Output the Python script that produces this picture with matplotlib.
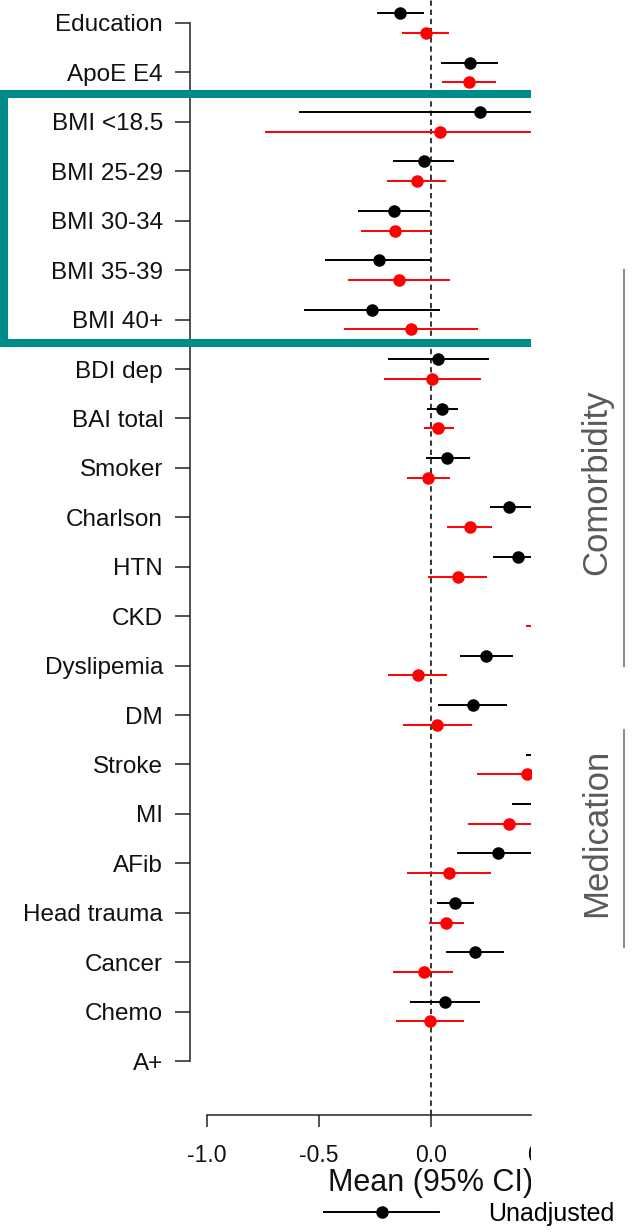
import matplotlib.pyplot as plt
import numpy as np
from matplotlib.lines import Line2D
from matplotlib.transforms import Bbox, TransformedBbox

plt.rc('font', family='Liberation Sans')

labels = ['Education', 'ApoE E4', 'BMI <18.5', 'BMI 25-29', 'BMI 30-34', 'BMI 35-39',
          'BMI 40+', 'BDI dep', 'BAI total', 'Smoker', 'Charlson', 'HTN', 'CKD',
          'Dyslipemia', 'DM', 'Stroke', 'MI', 'AFib', 'Head trauma', 'Cancer',
          'Chemo', 'A+']

nan = np.nan

# unadjusted estimates (black)
unadj_mean = [-0.137, 0.173, 0.219, -0.033, -0.164, -0.234, -0.265, 0.033, 0.049, 0.073,
              0.350, 0.389, 0.70, 0.246, 0.186, 0.65, 0.52, 0.301, 0.109, 0.197, 0.064, nan]
unadj_lo = [-0.243, 0.046, -0.589, -0.170, -0.325, -0.471, -0.569, -0.192, -0.018, -0.024,
            0.265, 0.279, 0.50, 0.130, 0.031, 0.424, 0.360, 0.115, 0.027, 0.069, -0.095, nan]
unadj_hi = [-0.033, 0.301, 1.03, 0.102, -0.005, 0.000, 0.042, 0.257, 0.122, 0.173,
            0.45, 0.50, 0.90, 0.365, 0.341, 0.88, 0.68, 0.49, 0.192, 0.328, 0.219, nan]

# adjusted estimates (red)
adj_mean = [-0.024, 0.170, 0.042, -0.064, -0.161, -0.142, -0.088, 0.005, 0.033, -0.013,
            0.173, 0.119, 0.62, -0.060, 0.027, 0.43, 0.350, 0.082, 0.069, -0.033, -0.004, nan]
adj_lo = [-0.128, 0.049, -0.739, -0.195, -0.314, -0.369, -0.387, -0.210, -0.033, -0.106,
          0.073, -0.013, 0.424, -0.192, -0.124, 0.206, 0.164, -0.106, -0.009, -0.168, -0.155, nan]
adj_hi = [0.082, 0.292, 0.82, 0.068, -0.005, 0.086, 0.210, 0.224, 0.102, 0.084,
          0.274, 0.250, 0.82, 0.073, 0.182, 0.65, 0.54, 0.270, 0.146, 0.100, 0.146, nan]

xticks = [-1.0, -0.5, 0.0, 0.5]

group_names = ['Comorbidity', 'Medication']
group_start = [5.0, 14.3]
group_end = [13.0, 18.7]
group_mid = [9.29, 16.39]

box_rows = [1.44, 6.47]

fig = plt.figure(figsize=(6.41, 12.32), dpi=100)
ax = fig.add_axes([190/641, 117/1232, 451/641, 1115/1232])

# the original picture is cut off on the right, everything past here is hidden
crop = TransformedBbox(Bbox([[0, 0], [531/641, 1]]), fig.transFigure)
x_cut = (531 - 431) / 224

y = np.arange(len(labels))

def draw(mean, lo, hi, y, color):
    mean, lo, hi = np.array(mean), np.array(lo), np.array(hi)
    return ax.errorbar(mean, y, xerr=[mean - lo, hi - mean], fmt='o', color=color,
                       ms=8, elinewidth=1.4, capsize=0, zorder=3)

ax.axvline(0, color='k', lw=1.1, ls=(0, (3.5, 2.5)), zorder=1)
draw(unadj_mean, unadj_lo, unadj_hi, y - 0.2, 'black')
draw(adj_mean, adj_lo, adj_hi, y + 0.2, '#ff0000')

for art in ax.lines + list(ax.collections):
    art.set_clip_box(crop)

ax.set_xlim(-1.0759, 0.9375)
ax.set_ylim(22.092, -0.4653)

ax.set_yticks(y)
ax.set_yticklabels(labels)
ax.set_xticks(xticks)
ax.set_xticklabels(['%.1f' % t for t in xticks])

for s in ['top', 'right']:
    ax.spines[s].set_visible(False)
ax.spines['left'].set_bounds(0, len(labels) - 1)
ax.spines['bottom'].set_bounds(-1.0, x_cut)
for s in ['left', 'bottom']:
    ax.spines[s].set_linewidth(1.1)
    ax.spines[s].set_color('#222222')

ax.tick_params(axis='y', length=10.8, width=1.1, pad=8.6, labelsize=17.5,
               colors='#222222', labelcolor='#111111')
ax.tick_params(axis='x', length=8.6, width=1.1, pad=12, labelsize=16.5,
               colors='#222222', labelcolor='#111111')
for tick in ax.xaxis.get_major_ticks():
    tick.tick1line.set_clip_box(crop)
    tick.tick1line.set_clip_on(True)
    tick.label1.set_clip_box(crop)
    tick.label1.set_clip_on(True)

fig.text(328/641, 1 - 1183/1232, 'Mean (95% CI)', ha='left', va='center',
         fontsize=22, color='#111111', clip_box=crop, clip_on=True)

# highlight box round the BMI rows
ax.plot([x_cut, -1.908, -1.908, x_cut], [box_rows[0], box_rows[0], box_rows[1], box_rows[1]],
        color='#008b8b', lw=5.8, clip_on=False, solid_joinstyle='miter',
        solid_capstyle='butt', zorder=10)

# group brackets on the right
for name, a, b, m in zip(group_names, group_start, group_end, group_mid):
    ax.plot([0.862, 0.862], [a, b], color='#8c8c8c', lw=1.5, clip_on=False)
    ax.text(0.741, m, name, rotation=90, ha='center', va='center', fontsize=25,
            color='#5a5a5a', clip_on=False)

handle = Line2D([], [], color='black', marker='o', ms=8, lw=1.4)
ax.legend([handle], ['Unadjusted'], loc='center left',
          bbox_to_anchor=(324/641, 1 - 1214/1232), bbox_transform=fig.transFigure,
          frameon=False, fontsize=18, handlelength=4.6, handletextpad=1.95,
          borderpad=0, borderaxespad=0)

plt.savefig('out.png', dpi=100)
